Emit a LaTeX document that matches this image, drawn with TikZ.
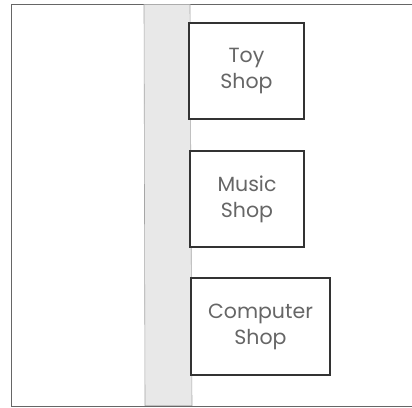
\documentclass[tikz,border=0pt]{standalone}
\usepackage{fontspec}
\setmainfont{Poppins}
\usepackage{tikz}

\begin{document}
\begin{tikzpicture}[x=1pt,y=-1pt]
		\tikzset{shop/.style={draw=black!80, line width=1.1pt, fill=white, align=center, inner sep=0pt,
			text=black!60, font=\fontsize{20.5}{26}\selectfont}};
		\tikzset{corridor/.style={fill=black!9, draw=black!35, line width=0.6pt}};
		\useasboundingbox (0,0) rectangle (412,407);
		\draw[black!60, line width=0.8pt] (412,4) -- (11,4) -- (11,406) -- (412,406);
		\draw[corridor] (144,4.4) -- (190,4.4) -- (192,405.6) -- (145,405.6) -- cycle;
		
		\node[shop, minimum width=115pt, minimum height=96pt] (toy) at (246.5,71) {Toy\\Shop};
		\node[shop, minimum width=114pt, minimum height=96pt] (music) at (247,199) {Music\\Shop};
		\node[shop, minimum width=139pt, minimum height=97pt] (computer) at (260.5,326.5) {Computer\\Shop};
	\end{tikzpicture}
\end{document}
